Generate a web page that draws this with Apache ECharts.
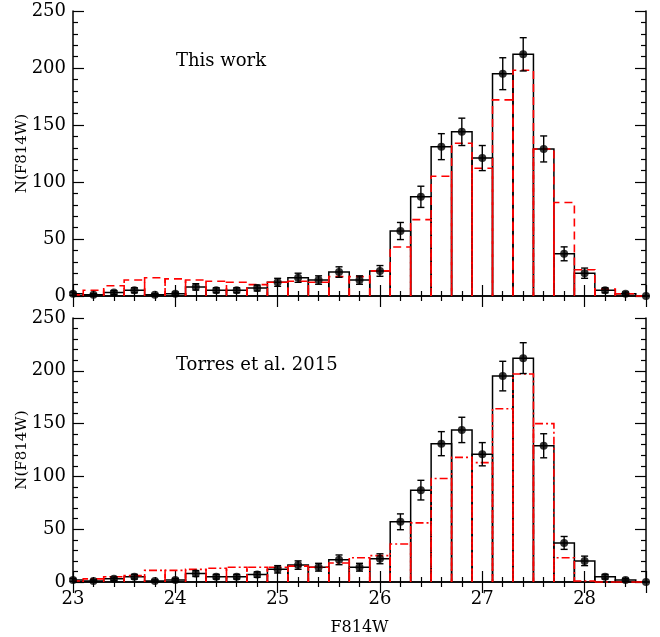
<!DOCTYPE html>
<html>
<head>
<meta charset="utf-8">
<script src="https://cdn.jsdelivr.net/npm/echarts@6/dist/echarts.min.js"></script>
<style>html,body{margin:0;padding:0;background:#fff;}#c{width:660px;height:637px;}</style>
</head>
<body>
<div id="c"></div>
<script>
// Bin centres (F814W magnitude)
const bins = [23.0, 23.2, 23.4, 23.6, 23.8, 24.0, 24.2, 24.4, 24.6, 24.8,
              25.0, 25.2, 25.4, 25.6, 25.8, 26.0, 26.2, 26.4, 26.6, 26.8,
              27.0, 27.2, 27.4, 27.6, 27.8, 28.0, 28.2, 28.4, 28.6];
// Observed counts (black histogram with points)
const observed = [2, 1, 3, 5, 1, 2, 8, 5, 5, 7,
                  12, 16, 14, 21, 14, 22, 57, 87, 131, 144,
                  121, 195, 212, 129, 37, 20, 5, 2, 0];
// Error bars on observed counts
const observedErr = [1.4, 1.0, 1.7, 2.2, 1.0, 1.4, 2.8, 2.2, 2.2, 2.6,
                     3.5, 4.0, 3.7, 4.6, 3.7, 4.7, 7.5, 9.3, 11.4, 12.0,
                     11.0, 14.0, 14.6, 11.4, 6.1, 4.5, 2.2, 1.4, 0];
// Model: this work (red dashed, top panel)
const modelThisWork = [1, 5, 9, 14, 16, 15, 14, 13, 12, 10,
                       12, 13, 12, 17, 17, 22, 43, 67, 105, 134,
                       112, 172, 198, 129, 82, 23, 6, 2, 0];
// Model: Torres et al. 2015 (red dash-dot, bottom panel)
const modelTorres = [1, 3, 5, 6, 11, 11, 12, 13, 14, 14,
                     14, 15, 14, 18, 23, 25, 36, 56, 98, 118,
                     113, 164, 197, 150, 23, 1, 0, 0, 0];
const panelLabels = ['This work', 'Torres et al. 2015'];
const xLabel = 'F814W';
const yLabel = 'N(F814W)';

const XMIN = 23, XMAX = 28.6, YMIN = 0, YMAX = 250;
const HALF_BIN = 0.1;
const FONT = 'DejaVu Serif';

function boxRender(color, width, dash) {
  return function (params, api) {
    const x = api.value(0), y = api.value(1);
    const lo = Math.max(x - HALF_BIN, XMIN), hi = Math.min(x + HALF_BIN, XMAX);
    const p0 = api.coord([lo, 0]);
    const p1 = api.coord([hi, y]);
    return {
      type: 'polyline',
      shape: { points: [[p0[0], p0[1]], [p0[0], p1[1]], [p1[0], p1[1]], [p1[0], p0[1]]] },
      style: { fill: null, stroke: color, lineWidth: width, lineDash: dash }
    };
  };
}
function errRender(params, api) {
  const x = api.value(0), y = api.value(1), e = api.value(2);
  const t = api.coord([x, y + e]);
  const b = api.coord([x, Math.max(y - e, 0)]);
  const cw = 3.5;
  const st = { stroke: '#000', lineWidth: 1.4 };
  return {
    type: 'group',
    children: [
      { type: 'line', shape: { x1: t[0], y1: t[1], x2: b[0], y2: b[1] }, style: st },
      { type: 'line', shape: { x1: t[0] - cw, y1: t[1], x2: t[0] + cw, y2: t[1] }, style: st },
      { type: 'line', shape: { x1: b[0] - cw, y1: b[1], x2: b[0] + cw, y2: b[1] }, style: st }
    ]
  };
}

const grids = [
  { left: 73, right: 14, top: 11, height: 285, containLabel: false, outerBoundsMode: 'none' },
  { left: 73, right: 14, top: 318, height: 264, containLabel: false, outerBoundsMode: 'none' }
];
const axisLine = { show: true, lineStyle: { color: '#000', width: 1.5 } };
const tick = { show: true, inside: true, length: 11, lineStyle: { color: '#000', width: 1.2 } };
const minor = { show: true, splitNumber: 5, length: 5, lineStyle: { color: '#000', width: 1.2 } };

const xAxes = [], yAxes = [], series = [];
grids.forEach((g, i) => {
  xAxes.push({
    type: 'value', gridIndex: i, position: 'bottom', min: XMIN, max: XMAX, interval: 1,
    axisLine, axisTick: tick, minorTick: minor, splitLine: { show: false },
    axisLabel: { show: i === 1, showMaxLabel: false, color: '#000', fontFamily: FONT, fontSize: 18, margin: 8 },
    name: i === 1 ? xLabel : '', nameLocation: 'middle', nameGap: 38, nameMoveOverlap: false,
    nameTextStyle: { color: '#000', fontFamily: FONT, fontSize: 16 }
  });
  xAxes.push({
    type: 'value', gridIndex: i, position: 'top', min: XMIN, max: XMAX, interval: 1,
    axisLine, axisTick: tick, minorTick: minor, splitLine: { show: false },
    axisLabel: { show: false }
  });
  yAxes.push({
    type: 'value', gridIndex: i, position: 'left', min: YMIN, max: YMAX, interval: 50,
    axisLine, axisTick: tick, minorTick: minor, splitLine: { show: false },
    axisLabel: { color: '#000', fontFamily: FONT, fontSize: 18, margin: 7 },
    name: yLabel, nameLocation: 'middle', nameGap: 43, nameRotate: 90, nameMoveOverlap: false,
    nameTextStyle: { color: '#000', fontFamily: FONT, fontSize: 15 }
  });
  yAxes.push({
    type: 'value', gridIndex: i, position: 'right', min: YMIN, max: YMAX, interval: 50,
    axisLine, axisTick: tick, minorTick: minor, splitLine: { show: false },
    axisLabel: { show: false }
  });
  const xi = i * 2, yi = i * 2;
  const obsRows = bins.map((b, k) => [b, observed[k], observedErr[k]]);
  const model = i === 0 ? modelThisWork : modelTorres;
  const modelRows = bins.map((b, k) => [b, model[k]]);
  series.push({
    type: 'custom', xAxisIndex: xi, yAxisIndex: yi, renderItem: boxRender('#000', 1.5, null),
    data: obsRows, z: 2, silent: true
  });
  series.push({
    type: 'custom', xAxisIndex: xi, yAxisIndex: yi,
    renderItem: boxRender('#ff0000', 1.6, i === 0 ? [8, 5] : [8, 3, 2, 3]),
    data: modelRows, z: 3, silent: true
  });
  series.push({
    type: 'custom', xAxisIndex: xi, yAxisIndex: yi, renderItem: errRender,
    data: obsRows, z: 4, silent: true
  });
  series.push({
    type: 'scatter', xAxisIndex: xi, yAxisIndex: yi, symbol: 'circle', symbolSize: 8,
    itemStyle: { color: '#000' }, data: obsRows.map(r => [r[0], r[1]]), z: 5, silent: true
  });
});

const chart = echarts.init(document.getElementById('c'), null, { renderer: 'canvas' });
chart.setOption({
  animation: false,
  backgroundColor: '#fff',
  grid: grids,
  xAxis: xAxes,
  yAxis: yAxes,
  series: series,
  graphic: [
    { type: 'text', left: 176, top: 52, style: { text: panelLabels[0], fill: '#000', font: '18px "DejaVu Serif"' } },
    { type: 'text', left: 176, top: 356, style: { text: panelLabels[1], fill: '#000', font: '18px "DejaVu Serif"' } }
  ]
});
</script>
</body>
</html>
